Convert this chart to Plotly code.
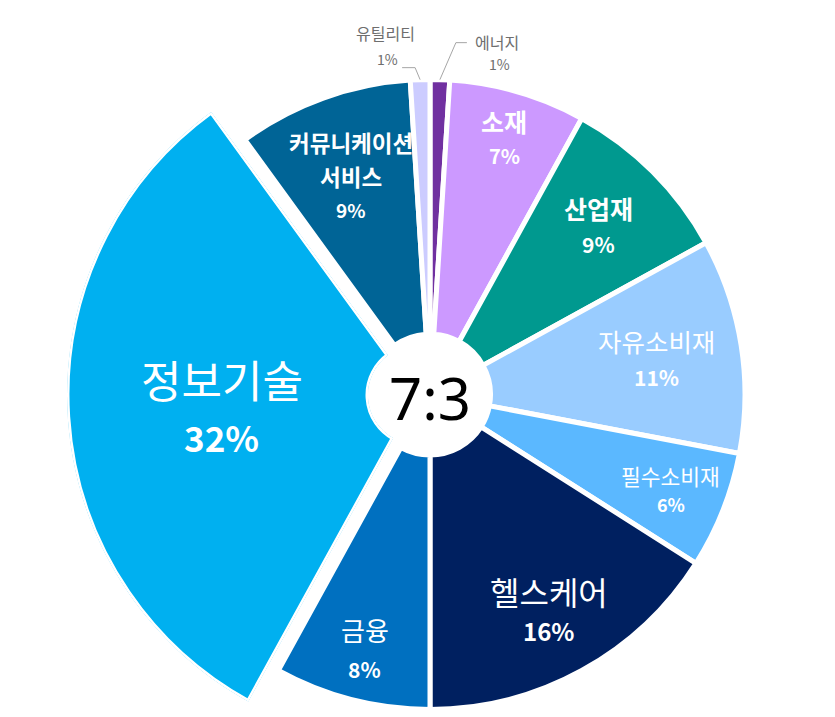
import numpy as np
import plotly.graph_objects as go

# sector weights (%), listed clockwise from 12 o'clock
SECTORS = ["에너지", "소재", "산업재", "자유소비재", "필수소비재",
           "헬스케어", "금융", "정보기술", "커뮤니케이션<br>서비스", "유틸리티"]
SHARES = [1, 7, 9, 11, 6, 16, 8, 32, 9, 1]
COLORS = ["#7030A0", "#CC99FF", "#00998F", "#99CCFF", "#5BB8FF",
          "#002060", "#0070C0", "#00B0F0", "#006496", "#CCCCFF"]
CENTER_TEXT = "7:3"
HIGHLIGHT = "정보기술"          # drawn larger, like an exploded slice
OUTSIDE = ["에너지", "유틸리티"]   # too thin for an inside label

# page is shown with the browser's 8px body margin
PAGE_W, PAGE_H, PAD = 835, 717, 8
W, H = PAGE_W - PAD, PAGE_H - PAD
CX, CY, R = 430, 394.5, 315        # main pie centre / radius (page px)
CX2, CY2, R2 = 417, 395, 350       # enlarged slice
HOLE, HOLE2 = 0.192, 0.14
FONT = "Noto Sans CJK KR"

# radius fraction, name size, pct size, bold name, line gap (px)
LABEL_STYLE = {
    "소재": (0.847, 25, 20, True, 34),
    "산업재": (0.758, 25, 21, True, 36),
    "자유소비재": (0.727, 25.5, 21, False, 36),
    "필수소비재": (0.822, 21.5, 18, False, 29),
    "헬스케어": (0.784, 32, 24, False, 40),
    "금융": (0.835, 26, 21, False, 40),
    "정보기술": (0.663, 44, 35, False, 58),
    "커뮤니케이션<br>서비스": (0.738, 22.5, 19, True, 33.5),
}
# outside labels: elbow, line end, name pos, pct pos (px offsets from slice edge)
OUTSIDE_STYLE = {
    "유틸리티": ((-5, -12), (-18, -12), (-35, -47), (-33, -21)),
    "에너지": ((16, -37), (27, -37), (57, -38), (60, -16)),
}

shares = np.array(SHARES, dtype=float)
total = shares.sum()
start = (np.cumsum(shares) - shares) / total * 360
span = shares / total * 360
mid = start + span / 2
hi = SECTORS.index(HIGHLIGHT)


def paper(x, y):
    return (x - PAD) / W, 1 - (y - PAD) / H


def polar_px(theta, r, cx=CX, cy=CY):
    t = np.radians(theta)
    return cx + r * np.sin(t), cy - r * np.cos(t)


fig = go.Figure()

# enlarged slice on its own polar subplot, framed to its sector
sector = [90 - (start[hi] + span[hi]), 90 - start[hi]]
a = np.radians(np.linspace(sector[0], sector[1], 721))
xs = np.concatenate([np.cos(a), [0]])
ys = np.concatenate([np.sin(a), [0]])
x0, y0 = paper(CX2 + R2 * xs.min(), CY2 - R2 * ys.min())
x1, y1 = paper(CX2 + R2 * xs.max(), CY2 - R2 * ys.max())

fig.add_trace(go.Barpolar(
    r=[1], theta=[mid[hi]], width=[span[hi]], base=0,
    marker=dict(color=COLORS[hi], line=dict(color="white", width=5)),
    hoverinfo="skip", showlegend=False,
))

pie_colors = list(COLORS)
pie_colors[hi] = "rgba(0,0,0,0)"
line_w = [5] * len(SECTORS)
line_w[hi] = 0
dx0, dy0 = paper(CX - R, CY + R)
dx1, dy1 = paper(CX + R, CY - R)

fig.add_trace(go.Pie(
    labels=SECTORS, values=SHARES, sort=False, direction="clockwise",
    rotation=0, hole=HOLE, textinfo="none", hoverinfo="label+percent",
    marker=dict(colors=pie_colors, line=dict(color="white", width=line_w)),
    domain=dict(x=[dx0, dx1], y=[dy0, dy1]),
    showlegend=False,
))

annotations = []
shapes = []
for i, name in enumerate(SECTORS):
    pct = f"{SHARES[i]}%"
    if name in LABEL_STYLE:
        rf, s_name, s_pct, bold, gap = LABEL_STYLE[name]
        ax, ay = polar_px(mid[i], rf * R)
        lines = name.split("<br>")
        texts = [(f"<b>{t}</b>" if bold else t, s_name) for t in lines]
        texts.append((f"<b>{pct}</b>", s_pct))
        n = len(texts)
        for k, (t, s) in enumerate(texts):
            px, py = paper(ax, ay + (k - (n - 1) / 2) * gap)
            annotations.append(dict(
                x=px, y=py, xref="paper", yref="paper", text=t, showarrow=False,
                xanchor="center", yanchor="middle",
                font=dict(family=FONT, size=s, color="white")))
    elif name in OUTSIDE_STYLE:
        elbow, end, npos, ppos = OUTSIDE_STYLE[name]
        ex, ey = polar_px(mid[i], R)
        pts = [paper(ex, ey), paper(ex + elbow[0], ey + elbow[1]),
               paper(ex + end[0], ey + end[1])]
        shapes.append(dict(
            type="path", xref="paper", yref="paper",
            path="M " + " L ".join(f"{p[0]},{p[1]}" for p in pts),
            line=dict(color="#A6A6A6", width=1)))
        for (dx, dy), t, s in [(npos, name, 16), (ppos, pct, 14)]:
            px, py = paper(ex + dx, ey + dy)
            annotations.append(dict(
                x=px, y=py, xref="paper", yref="paper", text=t, showarrow=False,
                xanchor="center", yanchor="middle",
                font=dict(family=FONT, size=s, color="#6E6E6E")))

cx_p, cy_p = paper(CX, CY + 3)
annotations.append(dict(
    x=cx_p, y=cy_p, xref="paper", yref="paper", text=CENTER_TEXT,
    showarrow=False, xanchor="center", yanchor="middle",
    font=dict(family="Noto Sans", size=58, color="black")))

fig.update_layout(
    width=W, height=H,
    margin=dict(l=0, r=0, t=0, b=0),
    paper_bgcolor="white",
    polar=dict(
        domain=dict(x=[x0, x1], y=[y0, y1]),
        sector=sector, hole=HOLE2, bgcolor="rgba(0,0,0,0)",
        angularaxis=dict(rotation=90, direction="clockwise", visible=False),
        radialaxis=dict(range=[0, 1], visible=False),
    ),
    annotations=annotations,
    shapes=shapes,
)

fig.write_html("out.html")
